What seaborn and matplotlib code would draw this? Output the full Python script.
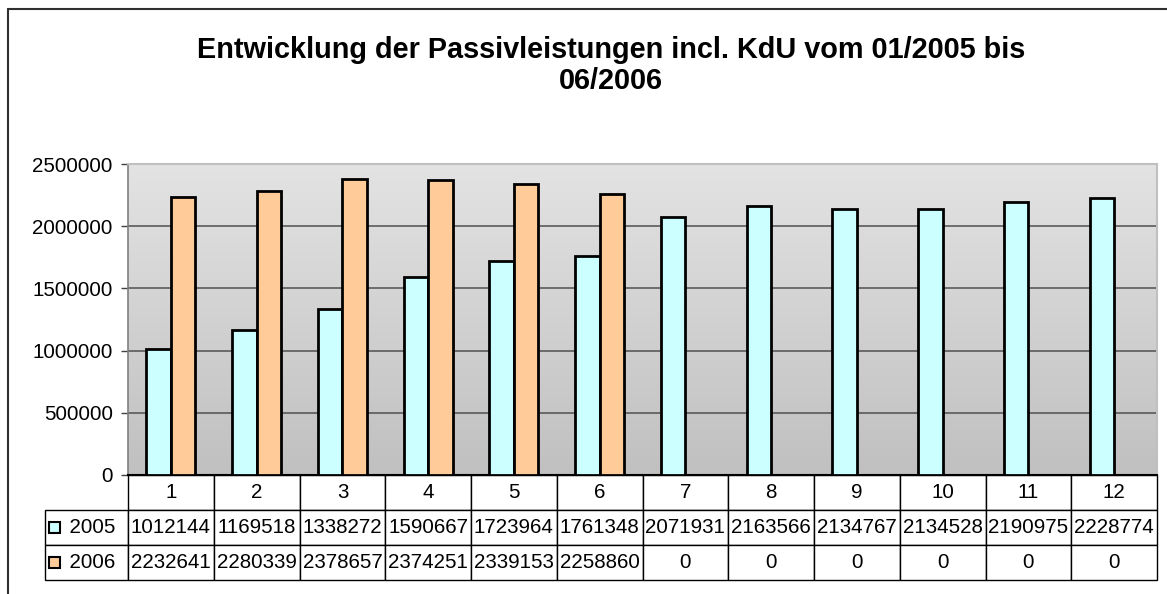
import numpy as np
import pandas as pd
import matplotlib
matplotlib.use("Agg")
import matplotlib.pyplot as plt
import seaborn as sns
from matplotlib.patches import Rectangle
from matplotlib.lines import Line2D
from matplotlib.colors import LinearSegmentedColormap

# ---------------- data ----------------
months = ["1", "2", "3", "4", "5", "6", "7", "8", "9", "10", "11", "12"]
series_names = ["2005", "2006"]
values_2005 = [1012144, 1169518, 1338272, 1590667, 1723964, 1761348,
               2071931, 2163566, 2134767, 2134528, 2190975, 2228774]
values_2006 = [2232641, 2280339, 2378657, 2374251, 2339153, 2258860,
               0, 0, 0, 0, 0, 0]
y_ticks = [0, 500000, 1000000, 1500000, 2000000, 2500000]
title_text = "Entwicklung der Passivleistungen incl. KdU vom 01/2005 bis\n06/2006"

sns.set_theme(style="white")
plt.rcParams['font.family'] = ['Liberation Sans', 'DejaVu Sans']
plt.rcParams['text.color'] = 'black'
plt.rcParams['axes.labelcolor'] = 'black'
plt.rcParams['xtick.color'] = 'black'
plt.rcParams['ytick.color'] = 'black'

df = pd.DataFrame({
    "Monat": months * 2,
    "Jahr": [series_names[0]] * len(months) + [series_names[1]] * len(months),
    "Wert": values_2005 + values_2006,
})

W, H = 1167, 594
fig = plt.figure(figsize=(W / 100, H / 100), dpi=100)
fig.patch.set_facecolor("white")
ax = fig.add_axes([128 / W, 1 - 475 / H, 1029 / W, 311 / H])

colors = {"2005": "#CCFFFF", "2006": "#FFCC99"}
sns.barplot(data=df, x="Monat", y="Wert", hue="Jahr", order=months,
            hue_order=series_names, palette=colors, width=0.572,
            edgecolor="black", linewidth=2, saturation=1, errorbar=None,
            legend=False, ax=ax, zorder=3)

# gradient background of plot area
grad = np.linspace(0, 1, 256).reshape(-1, 1)
cmap = LinearSegmentedColormap.from_list("bg", ["#e3e3e3", "#c0c0c0"])
ax.imshow(grad, extent=[0, 1, 0, 1], transform=ax.transAxes, cmap=cmap,
          aspect="auto", zorder=0, origin="upper")

ax.set_xlim(-0.5, len(months) - 0.5)
ax.set_ylim(0, 2500000)
ax.set_yticks(y_ticks)
ax.set_yticklabels([str(v) for v in y_ticks])
ax.set_xlabel("")
ax.set_ylabel("")
ax.set_axisbelow(True)
ax.yaxis.grid(True, color="#505050", lw=1.1)
ax.xaxis.grid(False)

for s in ["top", "right"]:
    ax.spines[s].set_color("#c0c0c0")
    ax.spines[s].set_linewidth(1.5)
ax.spines["left"].set_color("#808080")
ax.spines["left"].set_linewidth(1.2)
ax.spines["bottom"].set_color("black")
ax.spines["bottom"].set_linewidth(1.5)

ax.tick_params(axis="y", direction="out", length=5, width=1, color="#404040",
               labelsize=14.8, pad=6, left=True, labelcolor="black")
ax.tick_params(axis="x", bottom=False, labelbottom=False)

# data table
cell_text = [[series_names[0]] + [str(v) for v in values_2005],
             [series_names[1]] + [str(v) for v in values_2006]]
col_labels = [""] + months
legend_w = 83 / 1029
col_w = 1 / 12
tbl = ax.table(cellText=cell_text, colLabels=col_labels, cellLoc="center",
               colLoc="center", colWidths=[legend_w] + [col_w] * 12,
               bbox=[-legend_w, -105 / 311, 1 + legend_w, 105 / 311])
tbl.auto_set_font_size(False)
tbl.set_fontsize(14.8)
for (r, c), cell in tbl.get_celld().items():
    cell.set_edgecolor("black")
    cell.set_linewidth(1)
    cell.set_facecolor("white")
    cell.get_text().set_color("black")
    if r == 0 and c == 0:
        cell.visible_edges = "open"
        cell.set_facecolor("none")
    if c == 0 and r > 0:
        # shift series label to the right of the legend key
        cell.get_text().set_text("  " + cell.get_text().get_text())

# legend keys in table
for i, name in enumerate(series_names):
    yc = 527.5 + 35 * i
    fig.add_artist(Rectangle((49 / W, 1 - (yc + 5.5) / H), 11 / W, 11 / H,
                             transform=fig.transFigure, facecolor=colors[name],
                             edgecolor="black", lw=1.5))

# outer chart frame
fig.add_artist(Line2D([8 / W, 8 / W], [0, 1 - 9 / H], transform=fig.transFigure,
                      color="#303030", lw=1.5))
fig.add_artist(Line2D([8 / W, 1], [1 - 9 / H, 1 - 9 / H], transform=fig.transFigure,
                      color="#303030", lw=1.5))

fig.text(611 / W, 1 - 36 / H, title_text, ha="center", va="top", color="black",
         fontsize=20.8, fontweight="bold", linespacing=1.15)

fig.savefig("out.png", dpi=100)
